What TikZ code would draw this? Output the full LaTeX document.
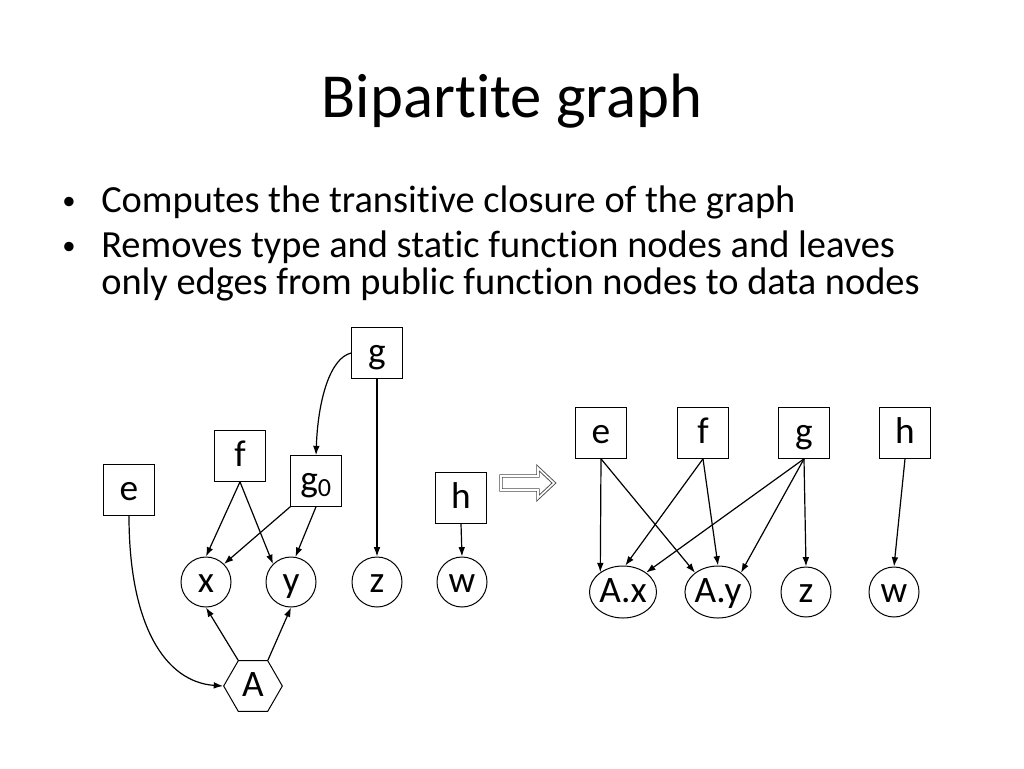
\documentclass[tikz,border=0pt]{standalone}
\usepackage{fontspec}
\setmainfont{Carlito}[Ligatures=NoCommon]
\usetikzlibrary{shapes.geometric,arrows.meta}

\newcommand{\nodefont}{\fontsize{28}{32}\selectfont}
\newcommand{\bulletfont}{\fontsize{28.8}{34}\selectfont}
\tikzset{
  lbl/.style={inner sep=0pt, line width=0.75pt, font=\nodefont, text height=21pt, text depth=5.6pt},
  fnbox/.style={lbl, draw, rectangle, minimum size=38pt},
  datnode/.style={lbl, draw, circle, minimum size=37.5pt},
  fieldnode/.style={lbl, draw, ellipse, minimum width=48pt, minimum height=39pt},
  typenode/.style={lbl, draw, regular polygon, regular polygon sides=6, minimum size=44pt},
  dep/.style={-{Latex[length=7pt,width=5pt]}, line width=0.9pt},
  dot/.style={anchor=base west, inner sep=0pt, font=\fontsize{20}{24}\selectfont},
}

\begin{document}
\begin{tikzpicture}[x=0.75pt, y=-0.75pt]
  \useasboundingbox (0,0) rectangle (1024,768);
  % title and bullets
  \node[anchor=base, font=\fontsize{47}{56}\selectfont] (title) at (512,117) {Bipartite graph};
  \node[dot] (b1) at (62,209) {•};
  \node[anchor=base west, inner sep=0pt, font=\bulletfont] (t1) at (101,212) {Computes the transitive closure of the graph};
  \node[dot] (b2) at (62,254) {•};
  \node[anchor=base west, inner sep=0pt, font=\bulletfont] (t2) at (101,257) {Removes type and static function nodes and leaves};
  \node[anchor=base west, inner sep=0pt, font=\bulletfont] (t3) at (101,294) {only edges from public function nodes to data nodes};

  % left graph
  \node[fnbox] (g) at (377,353) {g};
  \node[fnbox] (f) at (240,456) {f};
  \node[fnbox] (g0) at (316,481) {g\textsubscript{0}};
  \node[fnbox] (e) at (129,490) {e};
  \node[fnbox] (h) at (461,498) {h};
  \node[datnode] (x) at (206,582) {x};
  \node[datnode] (y) at (291,582) {y};
  \node[datnode] (z) at (377,582) {z};
  \node[datnode] (w) at (462,582) {w};
  \node[typenode] (A) at (253,686) {A};

  \draw[dep] (g.west) .. controls (330,358) and (318,400) .. (g0.north);
  \draw[dep] (e.south) .. controls (129,625) and (165,682) .. (A.180);
  \draw[dep] (f.south) -- (x.north);
  \draw[dep] (f.south) -- (y.135);
  \draw[dep] (g0.south west) -- (x.45);
  \draw[dep] (g0.south) -- (y.80);
  \draw[dep] (g.south) -- (z.north);
  \draw[dep] (h.south) -- (w.north);
  \draw[dep] (A.120) -- (x.south);
  \draw[dep] (A.60) -- (y.south);

  % hollow arrow
  \draw[gray!60!black, double=white, double distance=1.2pt, line width=0.7pt, line join=miter]
    (501,476) -- (538,476) -- (538,468) -- (554,483) -- (538,498) -- (538,490) -- (501,490) -- cycle;

  % right graph
  \node[fnbox] (e2) at (601,433) {e};
  \node[fnbox] (f2) at (703,433) {f};
  \node[fnbox] (g2) at (804,433) {g};
  \node[fnbox] (h2) at (905,433) {h};
  \node[fieldnode] (Ax) at (623,592) {A.x};
  \node[fieldnode, minimum width=49pt] (Ay) at (718,592) {A.y};
  \node[datnode] (z2) at (806,592) {z};
  \node[datnode] (w2) at (894,592) {w};

  \draw[dep] (e2.south) -- (Ax.139);
  \draw[dep] (e2.south) -- (Ay.140);
  \draw[dep] (f2.south) -- (Ax.85);
  \draw[dep] (f2.south) -- (Ay.north);
  \draw[dep] (g2.south) -- (Ax.40);
  \draw[dep] (g2.south) -- (Ay.40);
  \draw[dep] (g2.south) -- (z2.north);
  \draw[dep] (h2.south) -- (w2.north);
\end{tikzpicture}
\end{document}
